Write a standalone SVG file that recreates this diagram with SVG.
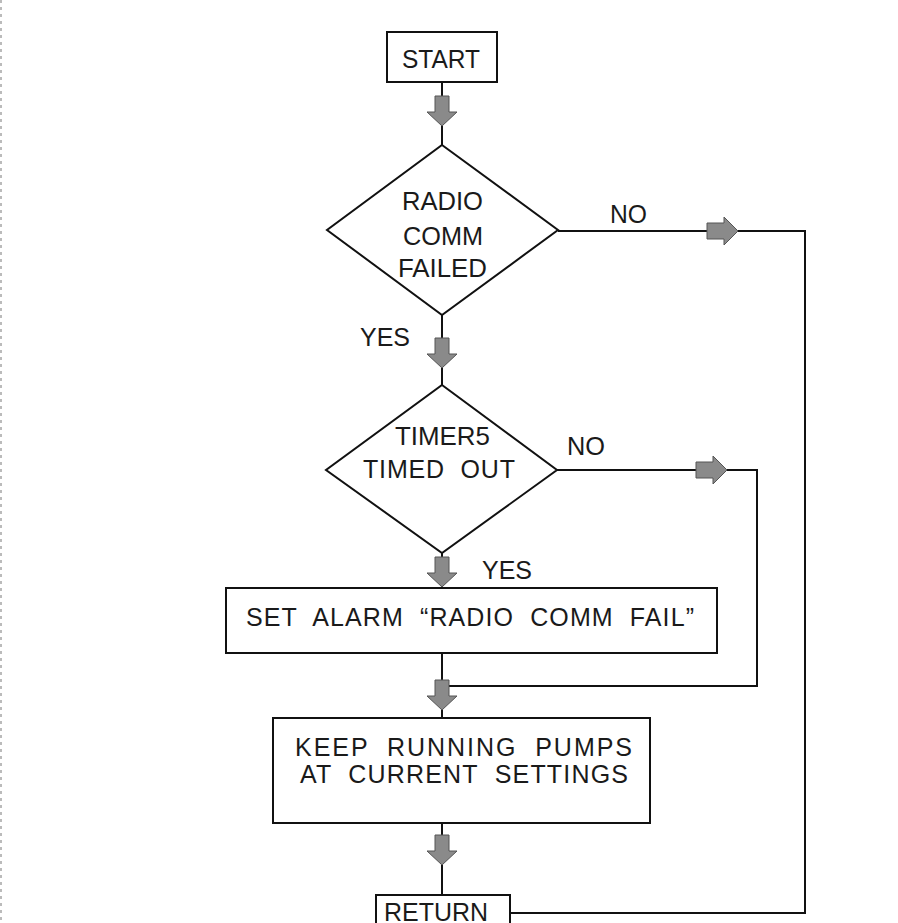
<svg xmlns="http://www.w3.org/2000/svg" xmlns:xlink="http://www.w3.org/1999/xlink" width="898" height="923" viewBox="0 0 898 923">
<style>
.box{fill:#fff;stroke:#111;stroke-width:2}
.ln{fill:none;stroke:#111;stroke-width:2}
.t{font-family:"Liberation Sans",Arial,sans-serif;font-size:25px;fill:#1a1a1a;white-space:pre}
.arr{fill:#8a8a8a;stroke:#555;stroke-width:1}
</style>
<defs>
<path id="dn" class="arr" d="M-7,0 H7 V16 H15 L0,30 L-15,16 H-7 Z"/>
<path id="rt" class="arr" d="M0,-8 H17 V-14 L31,0 L17,14 V8 H0 Z"/>
</defs>
<rect x="0" y="0" width="898" height="923" fill="#fff"/>
<line x1="1" y1="0" x2="1" y2="923" stroke="#bbb" stroke-width="2" stroke-dasharray="3 4"/>
<g id="connectors">
<path class="ln" d="M442,82 V145"/>
<path class="ln" d="M442,315 V385"/>
<path class="ln" d="M442,553 V588"/>
<path class="ln" d="M442,653 V718"/>
<path class="ln" d="M442,823 V895"/>
<path class="ln" d="M558,231 H805 V913 H510"/>
<path class="ln" d="M557,470 H757 V686 H442"/>
<use xlink:href="#dn" x="442" y="96"/>
<use xlink:href="#dn" x="442" y="338"/>
<use xlink:href="#dn" x="442" y="557"/>
<use xlink:href="#dn" x="442" y="680"/>
<use xlink:href="#dn" x="442" y="835"/>
<use xlink:href="#rt" x="707" y="231"/>
<use xlink:href="#rt" x="696" y="470"/>
<text class="t" x="610" y="223" textLength="37" lengthAdjust="spacingAndGlyphs">NO</text>
<text class="t" x="360" y="346" textLength="50" lengthAdjust="spacingAndGlyphs">YES</text>
<text class="t" x="567" y="455" textLength="38" lengthAdjust="spacingAndGlyphs">NO</text>
<text class="t" x="482" y="579" textLength="50" lengthAdjust="spacingAndGlyphs">YES</text>
</g>
<g id="start">
<rect class="box" x="387" y="32" width="110" height="50"/>
<text class="t" x="402" y="68" textLength="78" lengthAdjust="spacingAndGlyphs">START</text>
</g>
<g id="radio-comm-failed">
<polygon class="box" points="442,145 558,230 442,315 327,230"/>
<text class="t" x="402" y="210" textLength="81" lengthAdjust="spacingAndGlyphs">RADIO</text>
<text class="t" x="403" y="245" textLength="80" lengthAdjust="spacingAndGlyphs">COMM</text>
<text class="t" x="398" y="277" textLength="89" lengthAdjust="spacingAndGlyphs">FAILED</text>
</g>
<g id="timer5-timed-out">
<polygon class="box" points="442,385 557,470 442,553 326,470"/>
<text class="t" x="395" y="445" textLength="95" lengthAdjust="spacingAndGlyphs">TIMER5</text>
<text class="t" x="363" y="478" textLength="152" lengthAdjust="spacing">TIMED  OUT</text>
</g>
<g id="set-alarm">
<rect class="box" x="226" y="588" width="491" height="65"/>
<text class="t" x="246" y="626" textLength="448" lengthAdjust="spacing">SET  ALARM  “RADIO  COMM  FAIL”</text>
</g>
<g id="keep-running">
<rect class="box" x="273" y="718" width="377" height="105"/>
<text class="t" x="295" y="756" textLength="337" lengthAdjust="spacing">KEEP  RUNNING  PUMPS</text>
<text class="t" x="300" y="783" textLength="328" lengthAdjust="spacing">AT  CURRENT  SETTINGS</text>
</g>
<g id="return">
<rect class="box" x="376" y="895" width="134" height="40"/>
<text class="t" x="384" y="921" textLength="104" lengthAdjust="spacingAndGlyphs">RETURN</text>
</g>
</svg>
